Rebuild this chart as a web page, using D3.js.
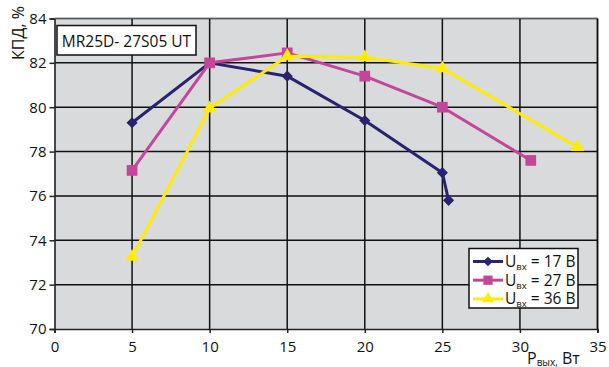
<!DOCTYPE html>
<html>
<head>
<meta charset="utf-8">
<script src="https://cdn.jsdelivr.net/npm/d3@7"></script>
<style>
  html, body { margin: 0; padding: 0; background: #fff; }
  svg { display: block; font-family: "Open Sans", "DejaVu Sans", sans-serif; }
</style>
</head>
<body>
<svg id="chart" width="609" height="367"></svg>
<script>
// Efficiency (КПД) vs. output power for three input voltages
const xTicks = [0, 5, 10, 15, 20, 25, 30, 35];
const yTicks = [70, 72, 74, 76, 78, 80, 82, 84];

const power17 = [5, 10, 15, 20, 25, 25.4];
const eff17   = [79.3, 82.0, 81.4, 79.4, 77.05, 75.8];

const power27 = [5, 10, 15, 20, 25, 30.7];
const eff27   = [77.15, 82.0, 82.45, 81.4, 80.0, 77.6];

const power36 = [5, 10, 15, 20, 25, 33.7];
const eff36   = [73.25, 79.95, 82.3, 82.25, 81.75, 78.2];

const seriesLabels = ["17 В", "27 В", "36 В"];
const modelName = "MR25D- 27S05 UT";

// diamond = square turned 45°
const series = [
  { label: seriesLabels[0], xs: power17, ys: eff17, color: "#29226f", symbol: d3.symbolSquare, size: 62, rot: 45 },
  { label: seriesLabels[1], xs: power27, ys: eff27, color: "#c2479a", symbol: d3.symbolSquare, size: 115, rot: 0 },
  { label: seriesLabels[2], xs: power36, ys: eff36, color: "#ffec00", symbol: d3.symbolTriangle, size: 80, rot: 0 }
];

const svg = d3.select("#chart");
const plotL = 54.5, plotR = 597.5, plotT = 18.5, plotB = 329;

const x = d3.scaleLinear().domain([0, 35]).range([plotL, plotR]);
const y = d3.scaleLinear().domain([70, 84]).range([plotB, plotT]);

// plot background
svg.append("rect")
  .attr("x", plotL).attr("y", plotT)
  .attr("width", plotR - plotL).attr("height", plotB - plotT)
  .attr("fill", "#d9dadc");

// grid
const grid = svg.append("g").attr("stroke", "#111").attr("stroke-width", 1.5);
grid.selectAll("line.v").data(xTicks.filter(t => t > 0)).join("line")
  .attr("x1", d => x(d)).attr("x2", d => x(d))
  .attr("y1", plotT).attr("y2", plotB);
grid.selectAll("line.h").data(yTicks.filter(t => t > 70)).join("line")
  .attr("x1", plotL).attr("x2", plotR)
  .attr("y1", d => y(d)).attr("y2", d => y(d));

// axes
const xAxis = d3.axisBottom(x).tickValues(xTicks).tickSize(4).tickPadding(8);
const yAxis = d3.axisLeft(y).tickValues(yTicks).tickSize(5).tickPadding(3);

const gx = svg.append("g").attr("transform", `translate(0,${plotB})`).call(xAxis);
const gy = svg.append("g").attr("transform", `translate(${plotL},0)`).call(yAxis);
[gx, gy].forEach(g => {
  g.select(".domain").attr("stroke", "#222").attr("stroke-width", 1.6);
  g.selectAll(".tick line").attr("stroke", "#222").attr("stroke-width", 1.5);
  g.selectAll(".tick text").attr("fill", "#111").attr("font-size", 15)
    .attr("font-family", "'Open Sans', 'DejaVu Sans', sans-serif");
});
gx.selectAll(".tick text").attr("dy", "0.71em");

// series lines and markers
const line = d3.line().x(d => x(d[0])).y(d => y(d[1]));
series.forEach(s => {
  const pts = s.xs.map((v, i) => [v, s.ys[i]]);
  svg.append("path").datum(pts)
    .attr("d", line)
    .attr("fill", "none")
    .attr("stroke", s.color)
    .attr("stroke-width", 3)
    .attr("stroke-linejoin", "round");
  svg.selectAll(null).data(pts).join("path")
    .attr("transform", d => `translate(${x(d[0])},${y(d[1])}) rotate(${s.rot})`)
    .attr("d", d3.symbol().type(s.symbol).size(s.size))
    .attr("fill", s.color);
});

// right and top frame
svg.append("line").attr("x1", plotR).attr("x2", plotR).attr("y1", plotT).attr("y2", plotB)
  .attr("stroke", "#111").attr("stroke-width", 1.5);
svg.append("line").attr("x1", plotL).attr("x2", plotR).attr("y1", plotT).attr("y2", plotT)
  .attr("stroke", "#555").attr("stroke-width", 1);

// model name box
svg.append("rect").attr("x", 57).attr("y", 25.5).attr("width", 139).attr("height", 29.5)
  .attr("fill", "#fff").attr("stroke", "#111").attr("stroke-width", 1.5);
svg.append("text").attr("x", 126.5).attr("y", 46.5)
  .attr("text-anchor", "middle").attr("font-size", 15.5).attr("fill", "#111")
  .text(modelName);

// legend
const lg = svg.append("g");
lg.append("rect").attr("x", 469).attr("y", 248.5).attr("width", 109).attr("height", 59.5)
  .attr("fill", "#fff").attr("stroke", "#111").attr("stroke-width", 1.5);
series.forEach((s, i) => {
  const cy = 261.5 + i * 18.7;
  lg.append("line").attr("x1", 473).attr("x2", 503).attr("y1", cy).attr("y2", cy)
    .attr("stroke", s.color).attr("stroke-width", 3);
  lg.append("path").attr("transform", `translate(488,${cy}) rotate(${s.rot})`)
    .attr("d", d3.symbol().type(s.symbol).size(s.size * 0.75))
    .attr("fill", s.color);
  const t = lg.append("text").attr("x", 505).attr("y", cy + 5.5)
    .attr("font-size", 15.5).attr("fill", "#111");
  t.append("tspan").text("U");
  t.append("tspan").attr("font-size", 9.5).attr("dy", 3).text("вх");
  t.append("tspan").attr("dy", -3).text(" = " + s.label);
});

// axis titles
svg.append("text")
  .attr("transform", "translate(24,33) rotate(-90)")
  .attr("text-anchor", "middle").attr("font-size", 16).attr("fill", "#111")
  .text("КПД, %");

const xt = svg.append("text").attr("x", 527).attr("y", 364)
  .attr("font-size", 16).attr("fill", "#111");
xt.append("tspan").text("P");
xt.append("tspan").attr("font-size", 10).attr("dy", 2).text("вых,");
xt.append("tspan").attr("dy", -2).text(" Вт");
</script>
</body>
</html>
